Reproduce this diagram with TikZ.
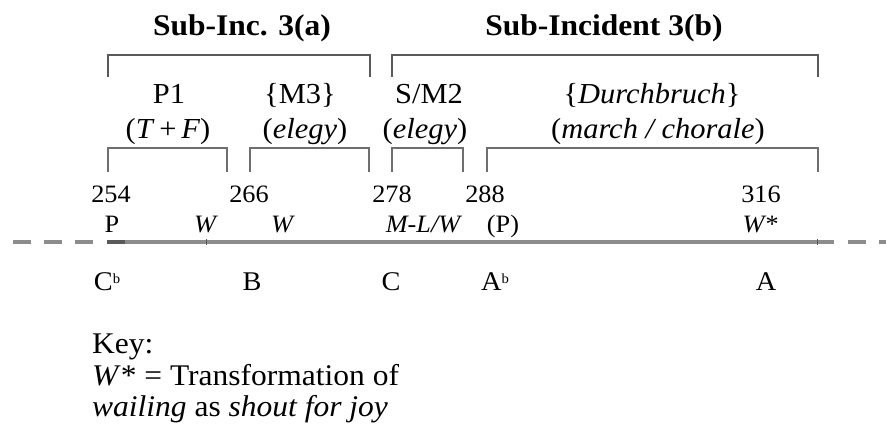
\documentclass[tikz,border=0pt]{standalone}
\usepackage{fontspec}
\setmainfont{Liberation Serif}[FakeStretch=1.05]
\definecolor{brk}{HTML}{5A5A5A}
\definecolor{brk2}{HTML}{6E6E6E}
\definecolor{lin}{HTML}{8C8C8C}
\newcommand{\fl}{\raisebox{0.55ex}{\fontsize{14}{14}\selectfont b}}
\begin{document}
\begin{tikzpicture}[x=1pt,y=-1pt,
  title/.style={anchor=base,inner sep=0pt,font=\fontsize{30}{30}\selectfont\bfseries},
  seclab/.style={anchor=base,inner sep=0pt,font=\fontsize{29}{29}\selectfont},
  num/.style={anchor=base,inner sep=0pt,font=\fontsize{25}{25}\selectfont},
  mlab/.style={anchor=base,inner sep=0pt,font=\fontsize{25}{25}\selectfont},
  keylab/.style={anchor=base,inner sep=0pt,font=\fontsize{27}{27}\selectfont},
  keytext/.style={anchor=base west,inner sep=0pt,font=\fontsize{30}{30}\selectfont},
  topbr/.style={draw=brk,line width=2pt},
  midbr/.style={draw=brk2,line width=2.6pt},
  mainline/.style={draw=lin,line width=3.5pt},
  dashline/.style={draw=lin,line width=3.5pt,dash pattern=on 18pt off 13pt}
]
\useasboundingbox (0,0) rectangle (886,434);
% titles
\node[title] (ta) at (242,35) {Sub-Inc. 3(a)};
\node[title] (tb) at (604,35) {Sub-Incident 3(b)};
% top brackets
\draw[topbr] (108,77) -- (108,55) -- (370,55) -- (370,77);
\draw[topbr] (392,77) -- (392,55) -- (818,55) -- (818,77);
% section labels
\node[seclab] (p1) at (169,103) {P1};
\node[seclab] (p1b) at (168,138) {(\textit{T}\,+\,\textit{F})};
\node[seclab] (m3) at (300,103) {\{M3\}};
\node[seclab] (m3b) at (305,138) {(\textit{elegy})};
\node[seclab] (sm) at (429,103) {S/M2};
\node[seclab] (smb) at (425,138) {(\textit{elegy})};
\node[seclab] (db) at (652,103) {\{\textit{Durchbruch}\}};
\node[seclab] (dbb) at (658,138) {(\textit{march / chorale})};
% second brackets
\draw[midbr] (108,172) -- (108,148) -- (227,148) -- (227,172);
\draw[midbr] (250,172) -- (250,148) -- (369,148) -- (369,172);
\draw[midbr] (392,172) -- (392,148) -- (463,148) -- (463,172);
\draw[midbr] (487,172) -- (487,148) -- (818,148) -- (818,172);
% numbers
\node[num] (n254) at (111,202) {254};
\node[num] (n266) at (249,202) {266};
\node[num] (n278) at (392,202) {278};
\node[num] (n288) at (485,202) {288};
\node[num] (n316) at (761,202) {316};
% marks
\node[mlab] (mp) at (112,232) {P};
\node[mlab] (mw1) at (206,232) {\textit{W}};
\node[mlab] (mw2) at (283,232) {\textit{W}};
\node[mlab] (mml) at (424,232) {\textit{M-L/W}};
\node[mlab] (mpp) at (503,232) {(P)};
\node[mlab] (mws) at (760,232) {\textit{W*}};
% main line
\draw[dashline] (13,242) -- (95,242);
\draw[mainline] (107,242) -- (834,242);
\draw[draw=brk,line width=4pt] (107,242) -- (125,242);
\draw[draw=brk,line width=1pt] (206,239) -- (206,245);
\draw[draw=brk,line width=1pt] (817,239) -- (817,245);
\draw[dashline] (848,242) -- (900,242);
% keys
\node[keylab] (kc) at (107,290) {C\fl};
\node[keylab] (kb) at (252,290) {B};
\node[keylab] (kc2) at (391,290) {C};
\node[keylab] (kab) at (495,290) {A\fl};
\node[keylab] (ka) at (766,290) {A};
% key
\node[keytext] (k1) at (92,353) {Key:};
\node[keytext] (k2) at (92,385) {\textit{W}* = Transformation of};
\node[keytext] (k3) at (92,416) {\textit{wailing} as \textit{shout for joy}};
\end{tikzpicture}
\end{document}
